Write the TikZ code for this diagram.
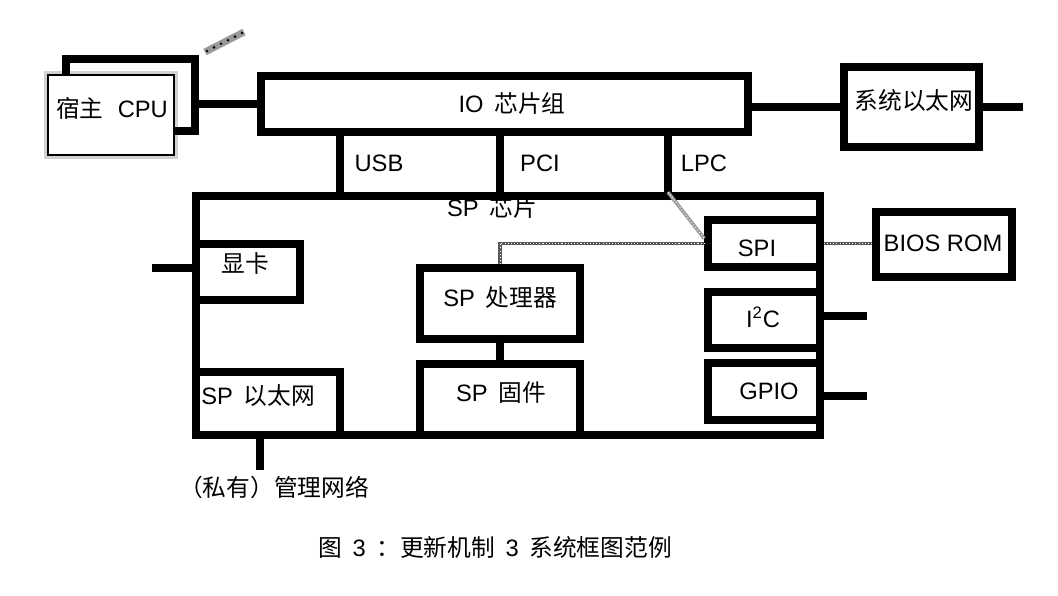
\documentclass[tikz,border=0pt]{standalone}
\usepackage{fontspec}
\usetikzlibrary{calc}
\setmainfont{Liberation Sans}
\newfontfamily\cjk{Noto Sans CJK SC}
\newcommand\zh[1]{{\cjk #1}}
\newcommand\gp{\hspace{0.45em}}
\begin{document}
\begin{tikzpicture}[x=0.02cm,y=-0.02cm,
  bw/.style={line width=0.15cm},
  box/.style={draw, line width=0.15cm, rectangle, inner sep=0pt},
  lbl/.style={font=\fontsize{13.5}{16}\selectfont, inner sep=0pt},
  dotc/.style={draw=black!65, line width=2pt},
  dotw/.style={draw=white, line width=0.5pt, dash pattern=on 0.6pt off 1.2pt}]
\useasboundingbox (0,0) rectangle (1058,595);

% host CPU
\node[draw=black!18, line width=0.08cm, minimum width=2.6cm, minimum height=1.68cm] (hostsh) at (111,115) {};
\node[draw, fill=white, line width=0.6pt, minimum width=2.52cm, minimum height=1.6cm] (host) at (111,115) {};
\node[lbl] (thost) at (112,108) {\zh{宿主}\hspace{0.6em}CPU};

% boxes
\node[box, minimum width=9.74cm, minimum height=1.12cm] (io) at (504.5,104) {};
\node[box, minimum width=2.70cm, minimum height=1.60cm] (syseth) at (911.5,107) {};
\node[box, minimum width=12.48cm, minimum height=4.78cm] (sp) at (508,315.5) {};
\node[box, minimum width=2.08cm, minimum height=1.12cm] (disp) at (248,272) {};
\node[box, minimum width=2.88cm, minimum height=1.26cm] (speth) at (268,403.5) {};
\node[box, minimum width=3.20cm, minimum height=1.42cm] (proc) at (500,303.5) {};
\node[box, minimum width=3.20cm, minimum height=1.42cm] (fw) at (500,399.5) {};
\node[box, minimum width=2.24cm, minimum height=0.94cm] (spi) at (764,243.5) {};
\node[box, minimum width=2.24cm, minimum height=1.12cm] (i2c) at (764,320) {};
\node[box, minimum width=2.24cm, minimum height=1.14cm] (gpio) at (764,391.5) {};
\node[box, minimum width=2.72cm, minimum height=1.30cm] (bios) at (944,244.5) {};

% labels
\node[lbl] (tio) at (512,103) {IO\gp\zh{芯片组}};
\node[lbl] (tsyseth) at (914,101) {\zh{系统以太网}};
\node[lbl] (tusb) at (379,163) {USB};
\node[lbl] (tpci) at (540,163) {PCI};
\node[lbl] (tlpc) at (704,163) {LPC};
\node[lbl] (tsp) at (492,207) {SP\gp\zh{芯片}};
\node[lbl] (tdisp) at (245,263) {\zh{显卡}};
\node[lbl] (tspeth) at (258,396) {SP\gp\zh{以太网}};
\node[lbl] (tproc) at (500,298) {SP\gp\zh{处理器}};
\node[lbl] (tfw) at (501,393) {SP\gp\zh{固件}};
\node[lbl] (tspi) at (757,248) {SPI};
\node[lbl] (ti2c) at (763,317) {I\textsuperscript{2}C};
\node[lbl] (tgpio) at (769,391) {GPIO};
\node[lbl] (tbios) at (943,243) {BIOS ROM};
\node[lbl] (tmgmt) at (274,487) {\zh{（私有）管理网络}};
\node[lbl] (tcap) at (495,547) {\zh{图}\gp 3\gp\zh{：更新机制}\gp 3\gp\zh{系统框图范例}};

% coordinates
\coordinate (hc1) at (66,59);
\coordinate (hc2) at (195,59);
\coordinate (hc3) at (195,131);
\coordinate (usb) at (340,0);
\coordinate (pci) at (500,0);
\coordinate (lpc) at (668,0);
\coordinate (ethend) at (1023,107);
\coordinate (dispend) at (152,268);
\coordinate (mgend) at (260,470);
\coordinate (i2cend) at (867,316);
\coordinate (gpioend) at (867,396);

% connectors
\draw[bw] (host.north -| hc1) -- (hc1) -- (hc2) -- (hc3) -- (hc3 -| host.east);
\draw[bw] (hc2 |- io.west) -- (io.west);
\draw[bw] (io.east |- syseth.west) -- (syseth.west);
\draw[bw] (syseth.east) -- (ethend);
\draw[bw] (usb |- io.south) -- (usb |- sp.north);
\draw[bw] (pci |- io.south) -- (pci |- sp.north);
\draw[bw] (lpc |- io.south) -- (lpc |- sp.north);
\draw[bw] (dispend) -- (dispend -| disp.west);
\draw[bw] (mgend |- speth.south) -- (mgend);
\draw[bw] (proc.south) -- (fw.north);
\draw[bw] (i2cend -| i2c.east) -- (i2cend);
\draw[bw] (gpioend -| gpio.east) -- (gpioend);
\draw[dotc, draw=black!40] (lpc |- sp.north) -- ([yshift=0.1cm]spi.west);
\draw[dotw] (lpc |- sp.north) -- ([yshift=0.1cm]spi.west);
\draw[dotc] (proc.north) |- (spi.west);
\draw[dotw] (proc.north) |- (spi.west);
\draw[dotc] (spi.east) -- (spi.east -| bios.west);
\draw[dotw] (spi.east) -- (spi.east -| bios.west);

% ellipsis dots
\draw[draw=black!40, line width=4pt] (205,52) -- (244,32);
\foreach \i in {0,...,5} \fill ($(207,51)!\i/5!(242,33)$) circle (0.8pt);
\end{tikzpicture}
\end{document}
